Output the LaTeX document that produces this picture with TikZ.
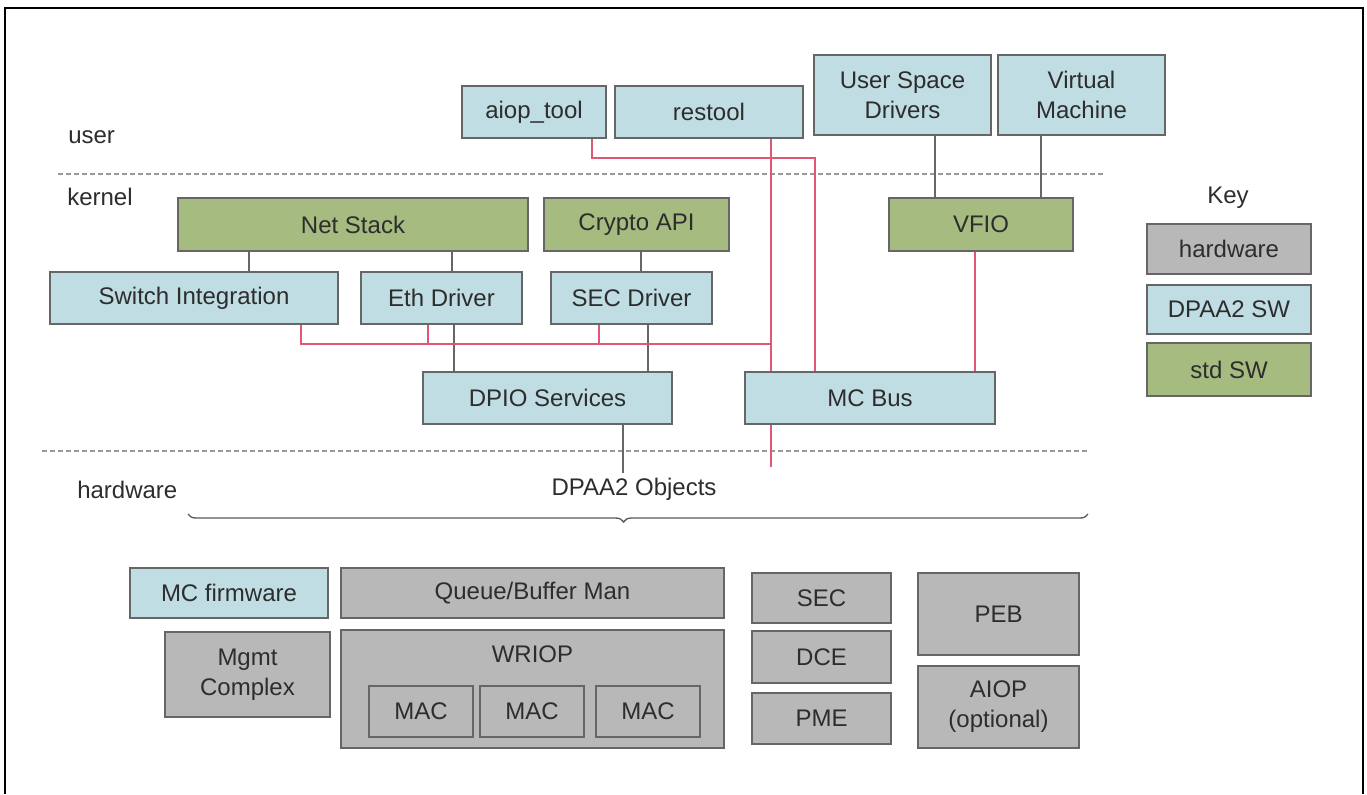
\documentclass[tikz,border=0pt]{standalone}
\usepackage{fontspec}
\setmainfont{Liberation Sans}
\usetikzlibrary{positioning,decorations.pathreplacing}
\definecolor{dpaablue}{RGB}{191,221,226}
\definecolor{stdgreen}{RGB}{165,187,128}
\definecolor{hwgray}{RGB}{184,184,184}
\definecolor{ctlred}{RGB}{222,88,118}
\definecolor{txtgray}{RGB}{45,45,45}

\begin{document}
\begin{tikzpicture} [
	x = 0.75pt, y = -0.75pt,
	every node/.style = {font=\fontsize{18}{22.5}\selectfont, text=txtgray},
	box/.style 2 args = {draw=black!60, line width=1.2pt, align=center, inner sep=0pt,
		minimum width=#1*0.75pt, minimum height=#2*0.75pt},
	sw/.style = {fill=dpaablue},
	std/.style = {fill=stdgreen},
	hw/.style = {fill=hwgray},
	tag/.style = {anchor=west, inner sep=0pt},
	link/.style = {draw=black!60, line width=1pt},
	ctl/.style = {draw=ctlred, line width=1pt},
	layer/.style = {draw=black!40, line width=0.9pt, dash pattern=on 4pt off 2pt},
	objbrace/.style = {draw=black!65, line width=1pt, decorate,
		decoration={brace, mirror, amplitude=6pt, aspect=0.484}}
]
\useasboundingbox (0,0) rectangle (1367,794);
\draw [line width=1.5pt] (5,794) |- (1363,8) -- (1363,794);

% layers
\node [tag] (user) at (68,137) {user};
\node [tag] (kernel) at (67,197) {kernel};
\node [tag] (hardware) at (77,490) {hardware};
\draw [layer] (58,174) -- (1104,174);
\draw [layer] (42,451) -- (1088,451);

% user space
\node [box={144}{52}, sw] (aioptool) at (534,112) {aiop\_tool};
\node [box={188}{52}, sw] (restool) at (709,112) {restool};
\node [box={177}{80}, sw] (usd) at (902.5,95) {User Space\\Drivers};
\node [box={167}{80}, sw] (vm) at (1081.5,95) {Virtual\\Machine};

% kernel
\node [box={350}{53}, std] (netstack) at (353,224.5) {Net Stack};
\node [box={185}{53}, std] (crypto) at (636.5,224.5) {Crypto API};
\node [box={184}{53}, std] (vfio) at (981,224.5) {VFIO};
\node [box={288}{52}, sw] (switch) at (194,298) {Switch Integration};
\node [box={161}{52}, sw] (eth) at (441.5,298) {Eth Driver};
\node [box={161}{52}, sw] (secdrv) at (631.5,298) {SEC Driver};
\node [box={249}{52}, sw] (dpio) at (547.5,398) {DPIO Services};
\node [box={250}{52}, sw] (mcbus) at (870,398) {MC Bus};

% key
\node (key) at (1228,198) {Key};
\node [box={164}{50}, hw] (keyhw) at (1229,249) {hardware};
\node [box={164}{49}, sw] (keysw) at (1229,309.5) {DPAA2 SW};
\node [box={164}{53}, std] (keystd) at (1229,369.5) {std SW};

% hardware
\node (objects) at (634,489) {DPAA2 Objects};
\coordinate (bracel) at (188,514);
\coordinate (bracer) at (1088,514);
\draw [objbrace] (bracel) -- (bracer);
\node [box={198}{50}, sw] (mcfw) at (229,593) {MC firmware};
\node [box={383}{50}, hw] (qbman) at (532.5,593) {Queue/Buffer Man};
\node [box={165}{85}, hw] (mgmt) at (247.5,674.5) {Mgmt\\Complex};
\node [box={383}{118}, hw] (wriop) at (532.5,689) {};
\node (wriopname) at ([yshift=-19pt]wriop.north) {WRIOP};
\node [box={104}{51}, hw] (maca) at (421,711.5) {MAC};
\node [box={104}{51}, hw] (macb) at (532,711.5) {MAC};
\node [box={104}{51}, hw] (macc) at (648,711.5) {MAC};
\node [box={139}{50}, hw] (sec) at (821.5,598) {SEC};
\node [box={139}{52}, hw] (dce) at (821.5,657) {DCE};
\node [box={139}{51}, hw] (pme) at (821.5,718.5) {PME};
\node [box={161}{82}, hw] (peb) at (998.5,614) {PEB};
\node [box={161}{82}, hw] (aiop) at (998.5,707) {AIOP\\(optional)};

% data path
\draw [link] (usd.south -| 935,0) -- (vfio.north -| 935,0);
\draw [link] (vm.south -| 1041,0) -- (vfio.north -| 1041,0);
\draw [link] (netstack.south -| 249,0) -- (switch.north -| 249,0);
\draw [link] (netstack.south -| 452,0) -- (eth.north -| 452,0);
\draw [link] (crypto.south -| 641,0) -- (secdrv.north -| 641,0);
\draw [link] (eth.south -| 454,0) -- (dpio.north -| 454,0);
\draw [link] (secdrv.south -| 648,0) -- (dpio.north -| 648,0);
\draw [link] (dpio.south -| 623,0) -- (objects.north -| 623,0);

% control path
\coordinate (busend) at (771,467);
\draw [ctl] (aioptool.south -| 592,0) -- (592,158) -- (815,158) -- (mcbus.north -| 815,0);
\draw [ctl] (restool.south -| 771,0) -- (mcbus.north -| 771,0);
\draw [ctl] (mcbus.south -| 771,0) -- (busend);
\draw [ctl] (switch.south -| 301,0) |- (771,344);
\draw [ctl] (eth.south -| 428,0) -- (428,344);
\draw [ctl] (secdrv.south -| 599,0) -- (599,344);
\draw [ctl] (vfio.south -| 975,0) -- (mcbus.north -| 975,0);
\end{tikzpicture}
\end{document}
